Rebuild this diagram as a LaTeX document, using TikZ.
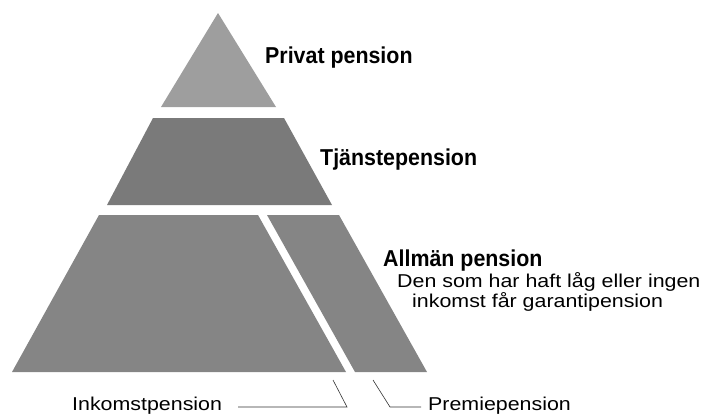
\documentclass[tikz,border=0pt]{standalone}
\usepackage{fontspec}
\setmainfont{Liberation Sans}
\newfontfamily\titlefont{Liberation Sans}[FakeStretch=0.93]
\newfontfamily\bodyfont{Liberation Sans}[FakeStretch=1.15]
\begin{document}
\begin{tikzpicture}[x=1pt,y=-1pt,
  layer/.style={draw=none},
  title/.style={anchor=base west,inner sep=0pt,font=\titlefont\bfseries\fontsize{23}{26}\selectfont},
  body/.style={anchor=base west,inner sep=0pt,font=\bodyfont\fontsize{18.6}{22}\selectfont},
  leader/.style={draw=black!80,line width=0.6pt}]
\useasboundingbox (0,0) rectangle (708,418);
% pyramid layers
\fill[black!38] (218,13) -- (276,107) -- (161,107) -- cycle;
\fill[black!52] (153,118) -- (284,118) -- (332,205) -- (107,205) -- cycle;
\fill[black!48] (99,215) -- (258,215) -- (346,372) -- (12,372) -- cycle;
\fill[black!48] (267,215) -- (339,215) -- (427,372) -- (355,372) -- cycle;
% labels
\node[title] (priv) at (265,63) {Privat pension};
\node[title] (tjan) at (320,165) {Tjänstepension};
\node[title] (allm) at (383,266) {Allmän pension};
\node[body] (den) at (397,287) {Den som har haft låg eller ingen};
\node[body] (ink) at (412,307) {inkomst får garantipension};
\node[body] (inkp) at (72,410) {Inkomstpension};
\node[body] (prem) at (428,410) {Premiepension};
% leaders
\coordinate (a1) at (333,380);
\coordinate (a2) at (347,407);
\coordinate (a3) at (238,407);
\coordinate (b1) at (373,380);
\coordinate (b2) at (390,407);
\coordinate (b3) at (421,407);
\draw[leader] (a1) -- (a2) -- (a3);
\draw[leader] (b1) -- (b2) -- (b3);
\end{tikzpicture}
\end{document}
